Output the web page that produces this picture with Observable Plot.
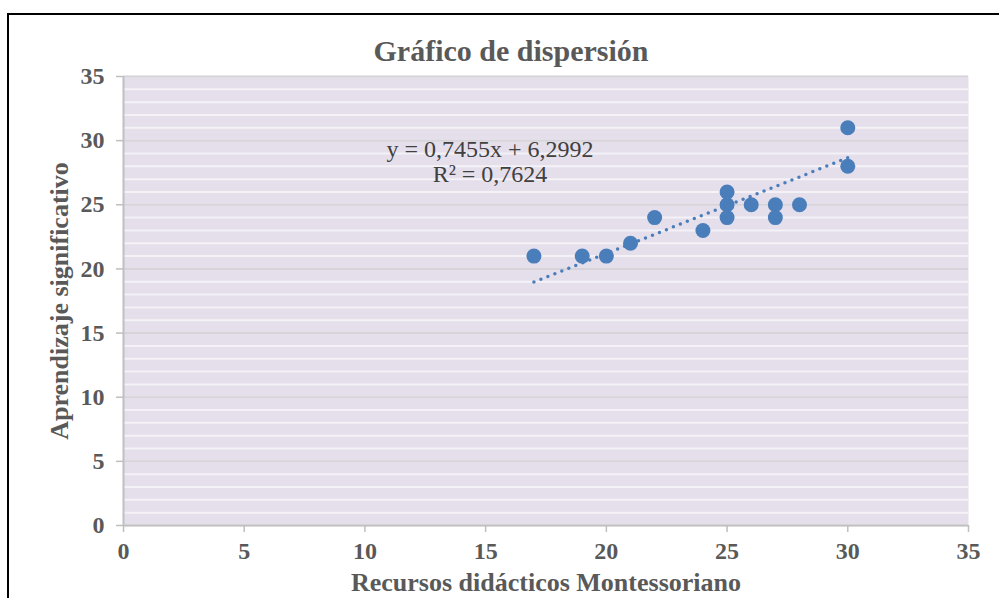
<!DOCTYPE html>
<html>
<head>
<meta charset="utf-8">
<script src="https://cdn.jsdelivr.net/npm/d3@7"></script>
<script src="https://cdn.jsdelivr.net/npm/@observablehq/plot@0.6"></script>
<style>
  html, body { margin: 0; padding: 0; background: #fff; }
  #wrap { position: relative; width: 999px; height: 598px; overflow: hidden; font-family: "Liberation Serif", "Times New Roman", serif; }
  #border { position: absolute; left: 7px; top: 13px; width: 1100px; height: 700px; border-left: 2px solid #000; border-top: 2px solid #000; box-sizing: border-box; }
  #title { position: absolute; left: 311px; width: 400px; top: 34px; line-height: 34px; text-align: center; font-size: 30px; font-weight: bold; color: #595959; }
  .eq { position: absolute; left: 290px; width: 400px; text-align: center; font-size: 24px; line-height: 28px; color: #404040; white-space: nowrap; }
  #chart { position: absolute; left: 0; top: 0; }
</style>
</head>
<body>
<div id="wrap">
  <div id="border"></div>
  <div id="chart"></div>
  <div id="title">Gráfico de dispersión</div>
  <div class="eq" id="eq1" style="top:135px"></div>
  <div class="eq" id="eq2" style="top:160px"></div>
</div>
<script>
// Data
const recursos = [17, 19, 20, 21, 22, 24, 25, 25, 25, 26, 27, 27, 28, 30, 30];
const aprendizaje = [21, 21, 21, 22, 24, 23, 26, 25, 24, 25, 25, 24, 25, 31, 28];
const slope = 0.7455;
const intercept = 6.2992;
const r2 = 0.7624;
const trendX = [17, 30];
const xTicks = [0, 5, 10, 15, 20, 25, 30, 35];
const yTicks = [0, 5, 10, 15, 20, 25, 30, 35];
const minorY = d3.range(0, 36, 1);

const points = recursos.map((x, i) => ({x, y: aprendizaje[i]}));
const trend = trendX.map(x => ({x, y: slope * x + intercept}));

const fmt = v => v.toFixed(4).replace(".", ",");
document.getElementById("eq1").textContent = `y = ${fmt(slope)}x + ${fmt(intercept)}`;
document.getElementById("eq2").textContent = `R² = ${fmt(r2)}`;

const tickStyle = {fontSize: 24, fontWeight: "bold", fill: "#595959", fontFamily: "Liberation Serif, serif"};

const chart = Plot.plot({
  width: 999,
  height: 598,
  marginLeft: 123,
  marginRight: 31,
  marginTop: 76,
  marginBottom: 73,
  style: {background: "transparent", fontFamily: "Liberation Serif, serif"},
  x: {domain: [0, 35]},
  y: {domain: [0, 35]},
  marks: [
    Plot.frame({fill: "#e5dfec", stroke: null}),
    Plot.ruleY(minorY, {stroke: "#f4f2f6", strokeWidth: 2}),
    Plot.ruleY(yTicks.filter(d => d > 0), {stroke: "#d6d3d9", strokeWidth: 2}),
    Plot.ruleY([0], {stroke: "#bfbfbf", strokeWidth: 2}),
    Plot.ruleX([0], {stroke: "#bfbfbf", strokeWidth: 2}),
    Plot.axisX({ticks: xTicks, tickSize: 7, stroke: "#bfbfbf", strokeWidth: 1.5, tickPadding: 9, label: null, ...tickStyle, color: "#595959"}),
    Plot.axisY({ticks: yTicks, tickSize: 7, stroke: "#bfbfbf", strokeWidth: 1.5, tickPadding: 12, label: null, ...tickStyle, color: "#595959"}),
    Plot.line(trend, {x: "x", y: "y", stroke: "#4a7ebb", strokeWidth: 3.5, strokeDasharray: "0,7.5", strokeLinecap: "round"}),
    Plot.dot(points, {x: "x", y: "y", r: 7.5, fill: "#4a7ebb", stroke: "none"}),
    Plot.text(["Recursos didácticos Montessoriano"], {frameAnchor: "bottom", dy: 65, fontSize: 26, fontWeight: "bold", fill: "#595959"}),
    Plot.text(["Aprendizaje significativo"], {frameAnchor: "left", textAnchor: "middle", dx: -64, rotate: -90, fontSize: 26, fontWeight: "bold", fill: "#595959"})
  ]
});
document.getElementById("chart").appendChild(chart);
</script>
</body>
</html>
